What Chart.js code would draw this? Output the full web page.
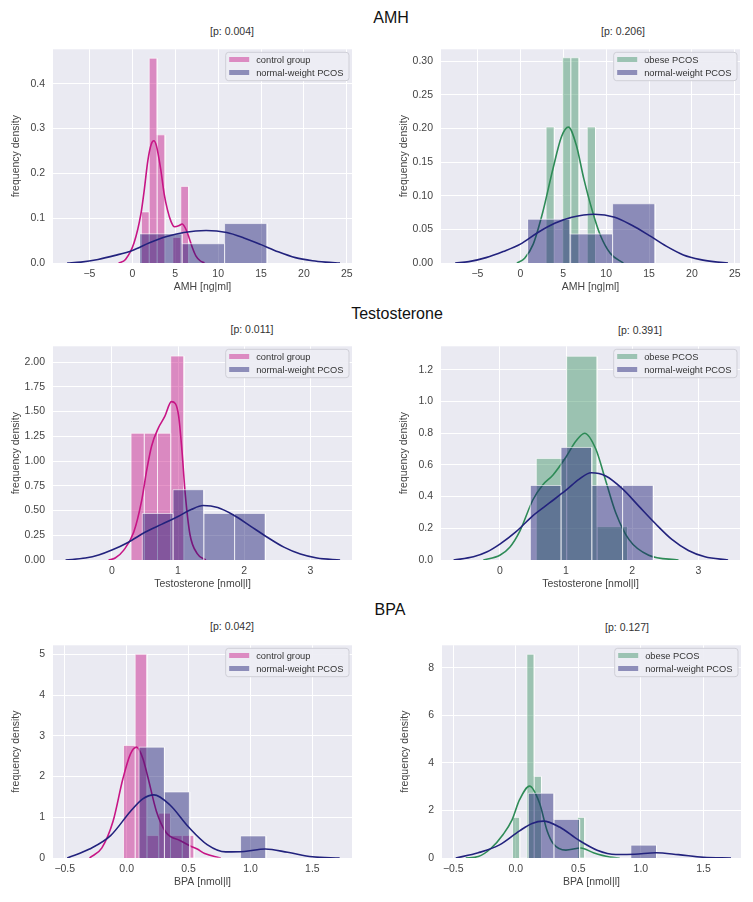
<!DOCTYPE html>
<html><head><meta charset="utf-8">
<script src="https://cdn.jsdelivr.net/npm/chart.js@4.4.1/dist/chart.umd.min.js"></script>
<style>
html,body{margin:0;padding:0;background:#fff;}
body{width:753px;height:902px;position:relative;overflow:hidden;font-family:"Liberation Sans",Arial,Helvetica,sans-serif;}
.sec{position:absolute;font-size:16px;color:#111;transform:translate(-50%,-50%);white-space:nowrap;}
.ptitle{position:absolute;font-size:10.5px;color:#333;transform:translate(-50%,-50%);white-space:nowrap;}
canvas{position:absolute;}
</style></head><body>
<div class="sec" style="left:391px;top:18px">AMH</div>
<div class="sec" style="left:397px;top:314px">Testosterone</div>
<div class="sec" style="left:390px;top:610px">BPA</div>
<div class="ptitle" style="left:232px;top:31px">[p: 0.004]</div>
<div class="ptitle" style="left:623px;top:31px">[p: 0.206]</div>
<div class="ptitle" style="left:252px;top:329px">[p: 0.011]</div>
<div class="ptitle" style="left:640px;top:330px">[p: 0.391]</div>
<div class="ptitle" style="left:232px;top:626px">[p: 0.042]</div>
<div class="ptitle" style="left:627px;top:627px">[p: 0.127]</div>
<script>
// ---------- tick values / labels ----------
const amhXTicks = [-5, 0, 5, 10, 15, 20, 25];
const amhXLabels = ['\u22125', '0', '5', '10', '15', '20', '25'];
const amhLeftYTicks = [0, 0.1, 0.2, 0.3, 0.4];
const amhLeftYLabels = ['0.0', '0.1', '0.2', '0.3', '0.4'];
const amhRightYTicks = [0, 0.05, 0.10, 0.15, 0.20, 0.25, 0.30];
const amhRightYLabels = ['0.00', '0.05', '0.10', '0.15', '0.20', '0.25', '0.30'];

const tXTicks = [0, 1, 2, 3];
const tXLabels = ['0', '1', '2', '3'];
const tLeftYTicks = [0, 0.25, 0.5, 0.75, 1.0, 1.25, 1.5, 1.75, 2.0];
const tLeftYLabels = ['0.00', '0.25', '0.50', '0.75', '1.00', '1.25', '1.50', '1.75', '2.00'];
const tRightYTicks = [0, 0.2, 0.4, 0.6, 0.8, 1.0, 1.2];
const tRightYLabels = ['0.0', '0.2', '0.4', '0.6', '0.8', '1.0', '1.2'];

const bXTicks = [-0.5, 0, 0.5, 1.0, 1.5];
const bXLabels = ['\u22120.5', '0.0', '0.5', '1.0', '1.5'];
const bLeftYTicks = [0, 1, 2, 3, 4, 5];
const bLeftYLabels = ['0', '1', '2', '3', '4', '5'];
const bRightYTicks = [0, 2, 4, 6, 8];
const bRightYLabels = ['0', '2', '4', '6', '8'];

// ---------- series labels ----------
const ctrlLabel = 'control group';
const nwLabel = 'normal-weight PCOS';
const obLabel = 'obese PCOS';

// ---------- AMH ----------
const amhCtrlEdges = [1.05, 1.97, 2.89, 3.81, 4.73, 5.65, 6.57];
const amhCtrlHeights = [0.114, 0.457, 0.286, 0, 0.057, 0.171];
const amhCtrlKdeX = [-1.6, -0.8, 0.2, 1.0, 1.4, 1.8, 2.2, 2.5, 2.8, 3.3, 3.7, 4.1, 4.5, 4.9, 5.4, 5.8, 6.2, 6.6, 7.0, 7.4, 7.9, 8.4];
const amhCtrlKdeY = [0, 0.008, 0.045, 0.11, 0.165, 0.228, 0.265, 0.273, 0.262, 0.21, 0.155, 0.118, 0.093, 0.081, 0.083, 0.087, 0.077, 0.057, 0.034, 0.016, 0.005, 0];

const amhNwEdges = [0.85, 5.8, 10.75, 15.7];
const amhNwHeights = [0.065, 0.043, 0.088];
const amhNwKdeX = [-7.6, -6, -4, -2, 0, 2, 4, 6, 8.6, 11, 13, 15, 17, 19, 21, 22.5, 24.2];
const amhNwKdeY = [0, 0.002, 0.008, 0.017, 0.028, 0.045, 0.059, 0.068, 0.0725, 0.068, 0.056, 0.041, 0.025, 0.012, 0.005, 0.002, 0];

const amhObEdges = [3.0, 3.96, 4.92, 5.88, 6.84, 7.8, 8.76];
const amhObHeights = [0.202, 0, 0.305, 0.305, 0, 0.202];
const amhObKdeX = [-0.4, 0.5, 1.5, 2.6, 3.8, 4.8, 5.6, 6.5, 7.4, 8.4, 9.3, 10.5, 12.0];
const amhObKdeY = [0, 0.007, 0.028, 0.075, 0.14, 0.188, 0.202, 0.176, 0.125, 0.077, 0.042, 0.014, 0];

// ---------- Testosterone ----------
const tCtrlEdges = [0.29, 0.49, 0.69, 0.89, 1.09];
const tCtrlHeights = [1.28, 1.28, 1.28, 2.06];
const tCtrlKdeX = [-0.05, 0.05, 0.18, 0.33, 0.45, 0.53, 0.6, 0.7, 0.8, 0.9, 0.96, 1.01, 1.06, 1.11, 1.18, 1.29, 1.42];
const tCtrlKdeY = [0, 0.02, 0.1, 0.28, 0.6, 0.92, 1.15, 1.33, 1.45, 1.6, 1.58, 1.45, 1.1, 0.66, 0.26, 0.065, 0];

const tNwEdges = [0.46, 0.925, 1.39, 1.855, 2.32];
const tNwHeights = [0.47, 0.71, 0.47, 0.47];
const tNwKdeX = [-0.7, -0.4, -0.2, 0, 0.25, 0.5, 0.75, 1.0, 1.2, 1.38, 1.6, 1.85, 2.1, 2.35, 2.6, 2.85, 3.1, 3.45];
const tNwKdeY = [0, 0.02, 0.05, 0.1, 0.18, 0.28, 0.36, 0.44, 0.51, 0.55, 0.53, 0.45, 0.34, 0.23, 0.13, 0.06, 0.02, 0];

const tObEdges = [0.55, 1.01, 1.47, 1.93];
const tObHeights = [0.64, 1.285, 0.21];
const tObKdeX = [-0.25, 0, 0.15, 0.3, 0.5, 0.65, 0.8, 1.0, 1.15, 1.28, 1.45, 1.6, 1.75, 1.95, 2.25, 2.7];
const tObKdeY = [0, 0.03, 0.08, 0.18, 0.38, 0.475, 0.535, 0.65, 0.75, 0.80, 0.70, 0.5, 0.3, 0.13, 0.03, 0];

// ---------- BPA ----------
const bCtrlEdges = [-0.026, 0.069, 0.164, 0.259, 0.354, 0.449, 0.544];
const bCtrlHeights = [2.76, 5.0, 0.55, 1.1, 0.55, 0.55];
const bCtrlKdeX = [-0.3, -0.2, -0.11, -0.03, 0.03, 0.08, 0.13, 0.17, 0.24, 0.32, 0.43, 0.51, 0.57, 0.63, 0.76];
const bCtrlKdeY = [0, 0.25, 0.9, 1.95, 2.55, 2.72, 2.45, 2.0, 1.15, 0.62, 0.43, 0.3, 0.22, 0.11, 0];

const bNwEdges = [0.1, 0.305, 0.51, 0.715, 0.92, 1.125];
const bNwHeights = [2.72, 1.62, 0, 0, 0.54];
const bNwKdeX = [-0.48, -0.3, -0.13, 0.03, 0.13, 0.22, 0.35, 0.5, 0.65, 0.8, 0.95, 1.12, 1.3, 1.5, 1.72];
const bNwKdeY = [0, 0.22, 0.55, 1.14, 1.45, 1.55, 1.3, 0.76, 0.33, 0.15, 0.16, 0.22, 0.14, 0.03, 0];

const bObEdges = [-0.026, 0.032, 0.089, 0.147, 0.205, 0.262, 0.32, 0.378, 0.435, 0.493, 0.551];
const bObHeights = [1.7, 0, 8.56, 3.43, 0, 0, 0, 0, 0, 1.7];
const bObKdeX = [-0.4, -0.3, -0.2, -0.1, -0.03, 0.03, 0.11, 0.19, 0.25, 0.3, 0.4, 0.52, 0.62, 0.75, 0.83];
const bObKdeY = [0, 0.06, 0.4, 1.0, 1.6, 2.45, 3.02, 2.3, 1.15, 0.6, 0.33, 0.42, 0.22, 0.04, 0];

// ---------- styles ----------
const FONT = '"Liberation Sans", Arial, Helvetica, sans-serif';
const STY = {
  ctrl: { fill: 'rgba(199,21,133,0.45)', line: '#C71585' },
  nw:   { fill: 'rgba(25,25,112,0.45)',  line: '#22227D' },
  ob:   { fill: 'rgba(46,139,87,0.42)',  line: '#2E8B57' }
};

function histPoints(edges, heights) {
  const pts = [{ x: edges[0], y: 0 }];
  heights.forEach((h, i) => {
    pts.push({ x: edges[i], y: h }, { x: edges[i + 1], y: h }, { x: edges[i + 1], y: 0 });
  });
  return pts;
}
function grp(label, sty, edges, heights, kx, ky) { return { label, sty, edges, heights, kx, ky }; }

const bgPlugin = {
  id: 'bgArea',
  beforeDraw(chart) {
    const { ctx, chartArea: a } = chart;
    ctx.save(); ctx.fillStyle = '#EAEAF2';
    ctx.fillRect(a.left, a.top, a.right - a.left, a.bottom - a.top);
    ctx.restore();
  }
};
const legendPlugin = {
  id: 'boxLegend',
  afterDatasetsDraw(chart) {
    const items = chart.data.datasets.filter(d => d.isHist);
    const { ctx, chartArea: a } = chart;
    ctx.save();
    ctx.font = '9.3px ' + FONT;
    const tw = Math.max(...items.map(d => ctx.measureText(d.label).width));
    const w = 31 + tw + 5, h = 15.4 + (items.length - 1) * 13;
    const x = a.right - 3.5 - w, y = a.top + 2.5;
    ctx.beginPath();
    ctx.roundRect(x + 0.5, y + 0.5, w, h, 3);
    ctx.fillStyle = 'rgba(237,237,244,0.92)'; ctx.fill();
    ctx.strokeStyle = '#CFCFD7'; ctx.lineWidth = 1; ctx.stroke();
    items.forEach((d, i) => {
      const cy = y + 7.7 + i * 13;
      ctx.fillStyle = d.backgroundColor;
      ctx.fillRect(x + 4, cy - 2.5, 20, 5);
      ctx.fillStyle = '#333'; ctx.textBaseline = 'middle'; ctx.textAlign = 'left';
      ctx.fillText(d.label, x + 31, cy + 0.5);
    });
    ctx.restore();
  }
};

const panels = [
  { plot: [53, 41, 352, 263], x: [-9.25, 25.6], y: [0, 0.477], xt: amhXTicks, xl: amhXLabels, yt: amhLeftYTicks, yl: amhLeftYLabels, xTitle: 'AMH [ng|ml]',
    groups: [grp(ctrlLabel, STY.ctrl, amhCtrlEdges, amhCtrlHeights, amhCtrlKdeX, amhCtrlKdeY), grp(nwLabel, STY.nw, amhNwEdges, amhNwHeights, amhNwKdeX, amhNwKdeY)] },
  { plot: [441, 41, 740, 263], x: [-9.25, 25.6], y: [0, 0.3176], xt: amhXTicks, xl: amhXLabels, yt: amhRightYTicks, yl: amhRightYLabels, xTitle: 'AMH [ng|ml]',
    groups: [grp(obLabel, STY.ob, amhObEdges, amhObHeights, amhObKdeX, amhObKdeY), grp(nwLabel, STY.nw, amhNwEdges, amhNwHeights, amhNwKdeX, amhNwKdeY)] },
  { plot: [53, 338, 352, 560], x: [-0.89, 3.63], y: [0, 2.159], xt: tXTicks, xl: tXLabels, yt: tLeftYTicks, yl: tLeftYLabels, xTitle: 'Testosterone [nmol|l]',
    groups: [grp(ctrlLabel, STY.ctrl, tCtrlEdges, tCtrlHeights, tCtrlKdeX, tCtrlKdeY), grp(nwLabel, STY.nw, tNwEdges, tNwHeights, tNwKdeX, tNwKdeY)] },
  { plot: [441, 338, 740, 560], x: [-0.89, 3.63], y: [0, 1.348], xt: tXTicks, xl: tXLabels, yt: tRightYTicks, yl: tRightYLabels, xTitle: 'Testosterone [nmol|l]',
    groups: [grp(obLabel, STY.ob, tObEdges, tObHeights, tObKdeX, tObKdeY), grp(nwLabel, STY.nw, tNwEdges, tNwHeights, tNwKdeX, tNwKdeY)] },
  { plot: [53, 637, 352, 858], x: [-0.595, 1.82], y: [0, 5.22], xt: bXTicks, xl: bXLabels, yt: bLeftYTicks, yl: bLeftYLabels, xTitle: 'BPA [nmol|l]',
    groups: [grp(ctrlLabel, STY.ctrl, bCtrlEdges, bCtrlHeights, bCtrlKdeX, bCtrlKdeY), grp(nwLabel, STY.nw, bNwEdges, bNwHeights, bNwKdeX, bNwKdeY)] },
  { plot: [442, 637, 741, 858], x: [-0.59, 1.80], y: [0, 8.94], xt: bXTicks, xl: bXLabels, yt: bRightYTicks, yl: bRightYLabels, xTitle: 'BPA [nmol|l]',
    groups: [grp(obLabel, STY.ob, bObEdges, bObHeights, bObKdeX, bObKdeY), grp(nwLabel, STY.nw, bNwEdges, bNwHeights, bNwKdeX, bNwKdeY)] }
];

function build(p) {
  const [L, T, R, B] = p.plot;
  const padTop = 6, padRight = 8, yW = 53, xH = 30;
  const left = L - yW, top = T - padTop;
  const w = R - L + yW + padRight, h = B - T + padTop + xH;
  const cv = document.createElement('canvas');
  cv.width = w; cv.height = h;
  cv.style.left = left + 'px'; cv.style.top = top + 'px';
  cv.style.width = w + 'px'; cv.style.height = h + 'px';
  document.body.appendChild(cv);
  const datasets = [];
  p.groups.forEach((g, gi) => {
    datasets.push({ label: g.label, isHist: true, data: histPoints(g.edges, g.heights), fill: 'origin',
      backgroundColor: g.sty.fill, borderColor: 'rgba(255,255,255,0.6)', borderWidth: 1, pointRadius: 0, tension: 0, order: 10 - gi * 2 });
    datasets.push({ label: g.label + ' (KDE)', isHist: false, data: g.kx.map((x, i) => ({ x, y: g.ky[i] })), fill: false,
      borderColor: g.sty.line, backgroundColor: g.sty.line, borderWidth: 1.6, pointRadius: 0, cubicInterpolationMode: 'monotone', order: 9 - gi * 2 });
  });
  const tickFont = { family: FONT, size: 10.5 };
  new Chart(cv, {
    type: 'line',
    data: { datasets },
    options: {
      responsive: false, animation: false, events: [], devicePixelRatio: 1,
      layout: { padding: { top: padTop, right: padRight, left: 0, bottom: 0 } },
      plugins: { legend: { display: false }, tooltip: { enabled: false } },
      scales: {
        x: {
          type: 'linear', min: p.x[0], max: p.x[1],
          afterBuildTicks: s => { s.ticks = p.xt.map(v => ({ value: v })); },
          afterFit: s => { s.height = xH; },
          grid: { color: '#ffffff', lineWidth: 1, drawTicks: false },
          border: { display: false },
          ticks: { autoSkip: false, maxRotation: 0, padding: 5, color: '#444', font: tickFont, callback: (v, i) => p.xl[i] },
          title: { display: true, text: p.xTitle, color: '#444', font: tickFont, padding: { top: 0, bottom: 0 } }
        },
        y: {
          type: 'linear', min: p.y[0], max: p.y[1],
          afterBuildTicks: s => { s.ticks = p.yt.map(v => ({ value: v })); },
          afterFit: s => { s.width = yW; },
          grid: { color: '#ffffff', lineWidth: 1, drawTicks: false },
          border: { display: false },
          ticks: { autoSkip: false, padding: 8, color: '#444', font: tickFont, callback: (v, i) => p.yl[i] },
          title: { display: true, text: 'frequency density', color: '#444', font: tickFont, padding: { top: 10, bottom: 0 } }
        }
      }
    },
    plugins: [bgPlugin, legendPlugin]
  });
}
panels.forEach(build);
</script>
</body></html>
